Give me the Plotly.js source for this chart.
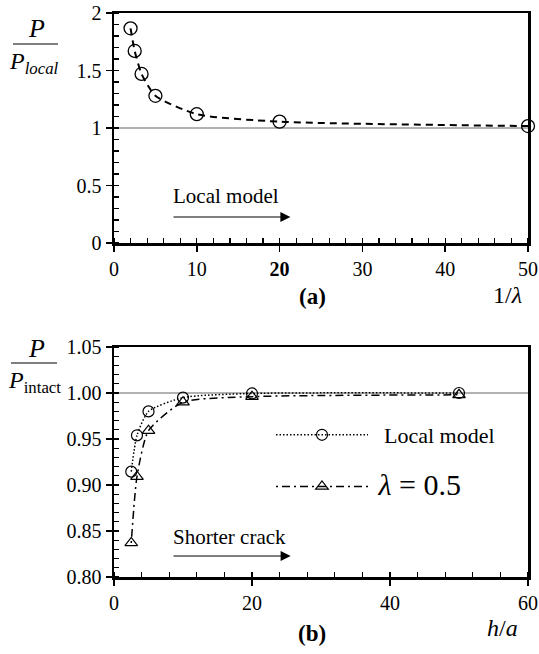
<!DOCTYPE html>
<html>
<head>
<meta charset="utf-8">
<script src="https://cdn.plot.ly/plotly-3.0.1.min.js"></script>
<style>html,body{margin:0;padding:0;background:#fff;}</style>
</head>
<body>
<div id="chart" style="width:539px;height:654px;"></div>
<script>
// (a) P/P_local vs 1/lambda
var xTop = [2, 2.5, 3.33, 5, 10, 20, 50];
var yTop = [1.867, 1.67, 1.47, 1.28, 1.12, 1.055, 1.017];
var xTopTicks = [0, 10, 20, 30, 40, 50];
var xTopTickText = ['0', '10', '<b>20</b>', '30', '40', '50'];

// (b) P/P_intact vs h/a
var xLocal = [2.5, 3.33, 5, 10, 20, 50];
var yLocal = [0.9145, 0.954, 0.980, 0.995, 0.9995, 1.000];
var xLam = [2.5, 3.33, 5, 10, 20, 50];
var yLam = [0.837, 0.909, 0.959, 0.990, 0.996, 0.998];
var nameLocal = '\u00A0\u00A0Local model';
var nameLam = '\u00A0<span style="font-size:30px"><i>λ</i> = 0.5</span>';

var F = '"Times New Roman", "Liberation Serif", serif';

var traces = [
  {x: xTop, y: yTop, xaxis: 'x', yaxis: 'y', mode: 'lines+markers', showlegend: false,
   cliponaxis: false,
   line: {color: '#000', width: 2, dash: '7px,5px', shape: 'spline', smoothing: 0.6},
   marker: {symbol: 'circle-open', size: 13, color: '#000', line: {width: 1.3, color: '#000'}}},
  {x: xLocal, y: yLocal, xaxis: 'x2', yaxis: 'y2', mode: 'lines+markers', name: nameLocal,
   legendgroup: 'a', cliponaxis: false,
   line: {color: '#000', width: 1.5, dash: '1.5px,2px', shape: 'spline', smoothing: 0.6},
   marker: {symbol: 'circle-open', size: 11, color: '#000', line: {width: 1.2, color: '#000'}}},
  {x: xLam, y: yLam, xaxis: 'x2', yaxis: 'y2', mode: 'lines+markers', name: nameLam,
   legendgroup: 'b', cliponaxis: false,
   line: {color: '#000', width: 1.5, dash: '2px,4px,8px,4px', shape: 'spline', smoothing: 0.6},
   marker: {symbol: 'triangle-up-open', size: 11, color: '#000', line: {width: 1.2, color: '#000'}}}
];

var axBase = {
  showline: true, linewidth: 2.5, linecolor: '#000', mirror: true,
  showgrid: false, zeroline: false, ticks: 'outside', ticklen: 6, tickwidth: 1.5,
  tickcolor: '#000', tickfont: {family: F, size: 20, color: '#000'}, automargin: false
};
function ax(o) { return Object.assign({}, axBase, o); }

function pa(x, y, text, size) {
  return {xref: 'paper', yref: 'paper', x: x / 539, y: 1 - y / 654, text: text, showarrow: false,
    xanchor: 'center', yanchor: 'middle', font: {family: F, size: size, color: '#000'}};
}

var xd = [114/539, 528/539];
var layout = {
  width: 539, height: 654,
  margin: {l: 0, r: 0, t: 0, b: 0},
  paper_bgcolor: '#fff', plot_bgcolor: '#fff',
  font: {family: F, color: '#000'},
  hovermode: false,
  xaxis: ax({domain: xd, anchor: 'y', range: [0, 50], tickmode: 'array', tickvals: xTopTicks,
    ticktext: xTopTickText,
    minor: {tickmode: 'linear', tick0: 0, dtick: 2, ticks: 'inside', ticklen: 5, tickwidth: 1.2, tickcolor: '#000'}}),
  yaxis: ax({domain: [411/654, 641/654], anchor: 'x', range: [0, 2], dtick: 0.5,
    minor: {tickmode: 'linear', tick0: 0, dtick: 0.1, ticks: 'inside', ticklen: 5, tickwidth: 1.2, tickcolor: '#000'}}),
  xaxis2: ax({domain: xd, anchor: 'y2', range: [0, 60], dtick: 20,
    minor: {tickmode: 'linear', tick0: 0, dtick: 4, ticks: 'inside', ticklen: 5, tickwidth: 1.2, tickcolor: '#000'}}),
  yaxis2: ax({domain: [77/654, 307/654], anchor: 'x2', range: [0.8, 1.05], dtick: 0.05, tickformat: '.2f',
    minor: {tickmode: 'linear', tick0: 0.8, dtick: 0.01, ticks: 'inside', ticklen: 5, tickwidth: 1.2, tickcolor: '#000'}}),
  showlegend: true,
  legend: {x: 271/539, y: 1 - 414/654, xanchor: 'left', yanchor: 'top', bgcolor: 'rgba(0,0,0,0)',
    font: {family: F, size: 22, color: '#000'}, itemwidth: 92, traceorder: 'grouped', tracegroupgap: 20},
  shapes: [
    {type: 'line', xref: 'x domain', yref: 'y', x0: 0, x1: 1, y0: 1, y1: 1, line: {color: '#999', width: 1.3}, layer: 'below'},
    {type: 'line', xref: 'x2 domain', yref: 'y2', x0: 0, x1: 1, y0: 1, y1: 1, line: {color: '#999', width: 1.3}, layer: 'below'},
    {type: 'line', xref: 'paper', yref: 'paper', x0: 13/539, x1: 58/539, y0: 1 - 44/654, y1: 1 - 44/654, line: {color: '#000', width: 1.2}},
    {type: 'line', xref: 'paper', yref: 'paper', x0: 11/539, x1: 57/539, y0: 1 - 363/654, y1: 1 - 363/654, line: {color: '#000', width: 1.2}}
  ],
  annotations: [
    {xref: 'x', yref: 'y', x: 13.5, y: 0.405, text: 'Local model', showarrow: false, font: {family: F, size: 21}},
    {xref: 'x', yref: 'y', x: 21.3, y: 0.226, ax: 7.0, ay: 0.226, axref: 'x', ayref: 'y', text: '',
     showarrow: true, arrowhead: 2, arrowsize: 2, arrowwidth: 1, arrowcolor: '#000'},
    {xref: 'x2', yref: 'y2', x: 16.8, y: 0.8435, text: 'Shorter crack', showarrow: false, font: {family: F, size: 21}},
    {xref: 'x2', yref: 'y2', x: 25.6, y: 0.8228, ax: 8.4, ay: 0.8228, axref: 'x2', ayref: 'y2', text: '',
     showarrow: true, arrowhead: 2, arrowsize: 2, arrowwidth: 1, arrowcolor: '#000'},
    pa(312, 296, '<b>(a)</b>', 23),
    pa(312, 633, '<b>(b)</b>', 23),
    pa(507, 295, '1/<i>λ</i>', 24),
    pa(503, 628, '<i>h</i>/<i>a</i>', 24),
    pa(36, 29, '<i>P</i>', 26),
    pa(34, 63, '<i>P<sub>local</sub></i>', 24),
    pa(36, 348, '<i>P</i>', 26),
    pa(34, 382, '<i>P</i><sub>intact</sub>', 24)
  ]
};

Plotly.newPlot('chart', traces, layout, {displayModeBar: false, staticPlot: true});
</script>
</body>
</html>
